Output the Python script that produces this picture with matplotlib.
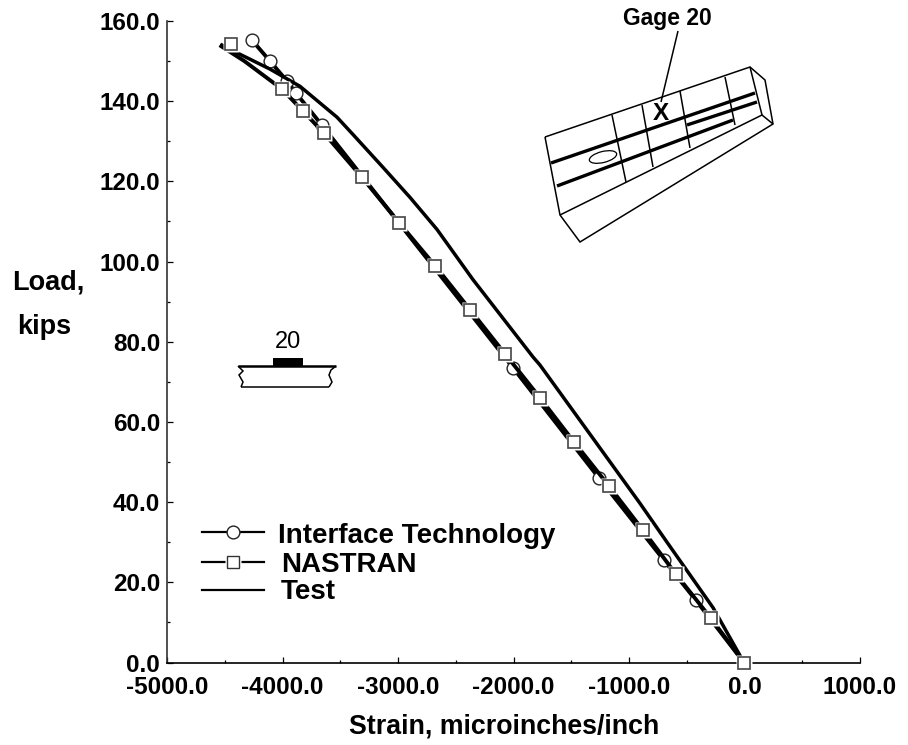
import numpy as np
import matplotlib
matplotlib.use("Agg")
import matplotlib.pyplot as plt
from matplotlib.patches import Ellipse, Rectangle
from matplotlib.ticker import MultipleLocator, FormatStrFormatter

plt.rcParams["font.family"] = ["Liberation Sans", "DejaVu Sans"]

# Interface Technology
iface_strain = [-4264, -4108, -3961, -3883, -3658, -2004, -1260, -697, -420, -5]
iface_load = [155.2, 150.0, 145.0, 142.0, 134.0, 73.5, 46.0, 25.5, 15.5, 0.0]

# NASTRAN curve, the first two points carry no marker
nastran_strain = [-4530, -4330, -4004, -3822, -3640, -3312, -2991, -2680, -2376,
                  -2074, -1770, -1476, -1173, -879, -593, -290, -5]
nastran_load = [153.7, 150.0, 143.0, 137.5, 132.0, 121.0, 109.7, 99.0, 88.0,
                77.0, 66.0, 55.0, 44.0, 33.0, 22.0, 11.0, 0.0]
square_strain = [-4446] + nastran_strain[2:]
square_load = [154.2] + nastran_load[2:]

# Test curve
test_strain = [-4524, -4368, -4108, -3848, -3528, -3390, -3130, -2896, -2662, -2351,
               -1831, -1771, -905, -671, -273, -5]
test_load = [154.0, 151.7, 148.0, 143.7, 136.0, 131.7, 123.5, 116.0, 108.0, 95.5,
             76.2, 74.2, 39.7, 30.0, 13.7, 0.0]

x_ticks = np.arange(-5000, 1001, 1000)
y_ticks = np.arange(0, 161, 20)

# schematic outlines, figure pixels
outline = [(545, 137), (750, 67), (765, 80), (773, 124), (580, 242), (560, 215), (545, 137)]
outline2 = [(560, 215), (762, 115), (773, 124)]
outline3 = [(750, 67), (762, 115)]
ribs = [[(612, 115), (626, 182)], [(642, 105), (653, 167)], [(680, 91), (690, 148)],
        [(725, 77), (735, 125)]]
spars = [[(551, 163), (755, 93)], [(557, 186), (733, 120)], [(687, 125), (757, 102)]]
leader = [(678, 31), (661, 102)]
section_top = [(238, 366), (336, 366)]
section_bot = [(241, 387), (329, 387)]
section_left = [(238, 366), (243, 371), (239, 375), (243, 382), (241, 387)]
section_right = [(336, 366), (331, 370), (329, 375), (332, 382), (329, 387)]

fig = plt.figure(figsize=(9.08, 7.45), dpi=100)
ax = fig.add_axes([167 / 908, 1 - 662.5 / 745, (860 - 167) / 908, (662.5 - 21) / 745])

ax.plot(iface_strain, iface_load, color="black", lw=2.8, zorder=2, clip_on=False)
ax.plot(iface_strain, iface_load, ls="none", marker="o", ms=9.2, mfc="white", mec="#222222",
        mew=1.0, zorder=3, clip_on=False)
ax.plot(test_strain, test_load, color="black", lw=2.5, zorder=4, clip_on=False)
ax.plot(nastran_strain, nastran_load, color="black", lw=2.8, zorder=4, clip_on=False)
ax.plot(square_strain, square_load, ls="none", marker="s", ms=12, mfc="white", mec="none",
        zorder=5, clip_on=False)
ax.plot(square_strain, square_load, ls="none", marker="s", ms=9.2, mfc="white", mec="#444444",
        mew=1.2, zorder=6, clip_on=False)

ax.set_xlim(-5000, 1000)
ax.set_ylim(0, 160)
ax.spines["top"].set_visible(False)
ax.spines["right"].set_visible(False)
ax.spines["left"].set_linewidth(1.2)
ax.spines["left"].set_color("#333333")
ax.spines["bottom"].set_linewidth(1.2)
ax.patch.set_alpha(0)

ax.set_xticks(x_ticks)
ax.set_yticks(y_ticks)
ax.xaxis.set_minor_locator(MultipleLocator(500))
ax.yaxis.set_minor_locator(MultipleLocator(10))
ax.xaxis.set_major_formatter(FormatStrFormatter("%.1f"))
ax.yaxis.set_major_formatter(FormatStrFormatter("%.1f"))
ax.tick_params(axis="x", which="major", direction="in", length=4.5, width=0.9, pad=10, labelsize=17.5)
ax.tick_params(axis="x", which="minor", direction="in", length=2.5, width=0.9)
ax.tick_params(axis="y", which="major", direction="in", length=4.5, width=0.9, pad=5, labelsize=17.5)
ax.tick_params(axis="y", which="minor", direction="in", length=2.5, width=0.9)
for lab in ax.get_xticklabels() + ax.get_yticklabels():
    lab.set_fontweight("bold")

# overlay in pixel coordinates for the hand drawn parts
ov = fig.add_axes([0, 0, 1, 1], zorder=-1)
ov.set_xlim(0, 908)
ov.set_ylim(745, 0)
ov.axis("off")


def poly(points, lw=1.2):
    xs, ys = zip(*points)
    ov.plot(xs, ys, color="black", lw=lw, solid_capstyle="butt", solid_joinstyle="miter")


for shape in (outline, outline2, outline3, leader, section_left, section_right, section_bot):
    poly(shape, 1.1)
for rib in ribs:
    poly(rib, 1.1)
for spar in spars:
    poly(spar, 2.4)
poly(section_top, 1.8)
ov.add_patch(Ellipse((603, 157), 28, 11, angle=-14, fc="white", ec="black", lw=0.9, zorder=3))
ov.add_patch(Rectangle((273, 358), 30, 8, fc="black", ec="none"))

ov.text(661, 113, "X", fontsize=17.5, fontweight="bold", ha="center", va="center")
ov.text(667, 18, "Gage 20", fontsize=16.5, fontweight="bold", ha="center", va="center")
ov.text(288, 342, "20", fontsize=17, ha="center", va="center")
ov.text(48, 283, "Load,", fontsize=19.5, fontweight="bold", ha="center", va="center")
ov.text(44, 327, "kips", fontsize=19.5, fontweight="bold", ha="center", va="center")
ov.text(504, 733, "Strain, microinches/inch", fontsize=19.3, fontweight="bold", ha="center", va="baseline")

# legend keys placed by hand like the original
ov.plot([202, 264], [532, 532], color="black", lw=1.6)
ov.plot([233], [532], marker="o", ms=9.2, mfc="white", mec="#222222", mew=1.0)
ov.plot([202, 264], [562, 562], color="black", lw=1.6)
ov.plot([233], [562], marker="s", ms=12, mfc="white", mec="none")
ov.plot([233], [562], marker="s", ms=9.2, mfc="white", mec="#333333", mew=1.0)
ov.plot([202, 264], [590, 590], color="black", lw=1.6)
ov.text(278, 536, "Interface Technology", fontsize=20, fontweight="bold", va="center")
ov.text(281, 565, "NASTRAN", fontsize=20, fontweight="bold", va="center")
ov.text(281, 592, "Test", fontsize=20, fontweight="bold", va="center")

fig.savefig("out.png", dpi=100, facecolor="white")
